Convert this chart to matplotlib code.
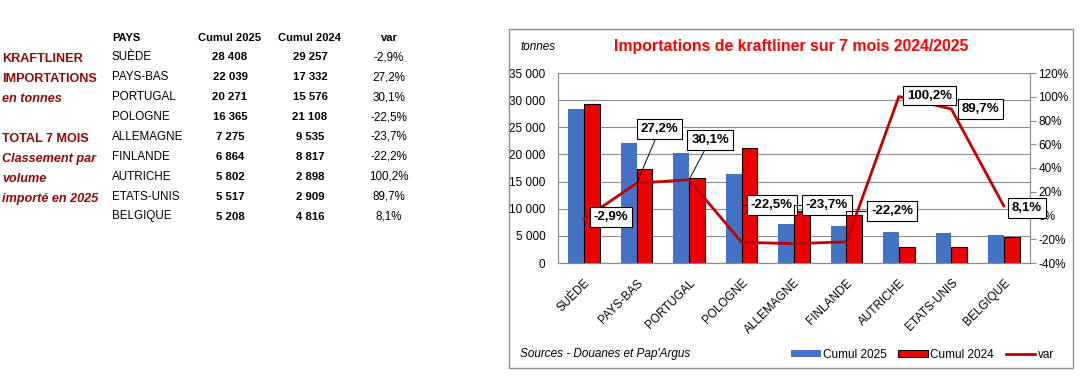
import matplotlib
matplotlib.use("Agg")
import matplotlib.pyplot as plt
from matplotlib.patches import Rectangle, Patch
from matplotlib.lines import Line2D
from matplotlib.ticker import FuncFormatter, MultipleLocator

plt.rcParams['font.family'] = ['Liberation Sans', 'DejaVu Sans']

pays = ["SUÈDE", "PAYS-BAS", "PORTUGAL", "POLOGNE", "ALLEMAGNE",
        "FINLANDE", "AUTRICHE", "ETATS-UNIS", "BELGIQUE"]
cumul_2025 = [28408, 22039, 20271, 16365, 7275, 6864, 5802, 5517, 5208]
cumul_2024 = [29257, 17332, 15576, 21108, 9535, 8817, 2898, 2909, 4816]
var = [-2.9, 27.2, 30.1, -22.5, -23.7, -22.2, 100.2, 89.7, 8.1]

left_labels = ["KRAFTLINER", "IMPORTATIONS", "en tonnes", "TOTAL 7 MOIS",
               "Classement par", "volume", "importé en 2025"]

W, H = 1085, 381
BLUE = "#4472C4"
RED = "#EE0000"
LINE = "#C00000"
MAROON = "#8B0A0A"
GRAY = "#8C8C8C"


def milliers(v):
    return f"{int(v):,}".replace(",", " ")


def pct(v):
    return f"{v:.1f}%".replace(".", ",")


def px(x, y):
    # pixel position -> figure fraction
    return x / W, 1 - y / H


fig = plt.figure(figsize=(W / 100, H / 100), dpi=100)

# ---- left text block ----
lines_y = [59, 79, 99, 139, 159, 179, 199]
for txt, y in zip(left_labels, lines_y):
    italic = txt in ("en tonnes", "Classement par", "volume", "importé en 2025")
    fig.text(*px(2, y), txt, color=MAROON, fontsize=9.1, fontweight="bold",
             style="italic" if italic else "normal", va="center", ha="left")

fig.text(*px(112, 38), "PAYS", fontsize=8, fontweight="bold", va="center")
fig.text(*px(229, 38), "Cumul 2025", fontsize=8, fontweight="bold", va="center", ha="center")
fig.text(*px(309, 38), "Cumul 2024", fontsize=8, fontweight="bold", va="center", ha="center")
fig.text(*px(389, 38), "var", fontsize=8, fontweight="bold", va="center", ha="center")
for i, p in enumerate(pays):
    y = 57.3 + 19.9 * i
    fig.text(*px(112, y), p, fontsize=8.4, va="center")
    fig.text(*px(230, y), milliers(cumul_2025[i]), fontsize=8.2, fontweight="bold",
             va="center", ha="center")
    fig.text(*px(310, y), milliers(cumul_2024[i]), fontsize=8.2, fontweight="bold",
             va="center", ha="center")
    fig.text(*px(389, y), pct(var[i]), fontsize=8.4, va="center", ha="center")

# ---- chart frame ----
fig.patches.append(Rectangle(px(509, 368), (1073 - 509) / W, (368 - 29) / H,
                             transform=fig.transFigure, fill=False,
                             edgecolor=GRAY, lw=1))

ax = fig.add_axes([558 / W, 1 - 263 / H, (1030 - 558) / W, (263 - 73) / H])
ax2 = ax.twinx()

x = list(range(len(pays)))
bw = 0.3
ax.bar([i - bw / 2 for i in x], cumul_2025, width=bw, color=BLUE, zorder=2)
ax.bar([i + bw / 2 for i in x], cumul_2024, width=bw, color=RED,
       edgecolor="black", linewidth=0.8, zorder=2)

ax.set_xlim(-0.5, len(pays) - 0.5)
ax.set_ylim(0, 35000)
ax.yaxis.set_major_locator(MultipleLocator(5000))
ax.yaxis.set_major_formatter(FuncFormatter(lambda v, p: milliers(v)))
ax.grid(axis="y", color=GRAY, lw=0.8)
ax.set_axisbelow(True)
ax.set_xticks(x)
ax.set_xticklabels(pays, rotation=45, ha="right", rotation_mode="anchor", fontsize=8.5)
ax.tick_params(axis="y", length=0, labelsize=8.5, pad=9)
ax.tick_params(axis="x", length=0, pad=10)

ax2.plot(x, var, color=LINE, lw=2, zorder=3)
ax2.set_ylim(-40, 120)
ax2.yaxis.set_major_locator(MultipleLocator(20))
ax2.yaxis.set_major_formatter(FuncFormatter(lambda v, p: f"{v:.0f}%"))
ax2.tick_params(axis="y", length=4, color=GRAY, labelsize=8.5, pad=2)

for a in (ax, ax2):
    a.spines["top"].set_visible(False)
    for s in ("left", "right", "bottom"):
        a.spines[s].set_color(GRAY)
        a.spines[s].set_linewidth(0.8)

# data labels for var
offsets = [(27, 2), (23, 54), (21, 40), (30, 37), (33, 39),
           (46, 31), (31, 1), (29, 0), (23, -2)]
for i, v in enumerate(var):
    dx, dy = offsets[i]
    kw = {}
    if i in (1, 2):
        kw["arrowprops"] = dict(arrowstyle="-", color="black", lw=0.7,
                                shrinkA=0, shrinkB=0)
    elif i in (3, 4, 5):
        kw["arrowprops"] = dict(arrowstyle="-", color="black", lw=0.7,
                                shrinkA=0, shrinkB=0,
                                connectionstyle="angle,angleA=0,angleB=90,rad=0")
    ax2.annotate(pct(v), xy=(i, v), xytext=(dx, dy), textcoords="offset pixels",
                 ha="center", va="center", fontsize=9.5, fontweight="bold",
                 bbox=dict(boxstyle="square,pad=0.3", fc="white", ec="black", lw=0.8),
                 zorder=5, **kw)

# titles and notes
fig.text(*px(791, 47), "Importations de kraftliner sur 7 mois 2024/2025",
         color="#FF0000", fontsize=11.4, fontweight="bold", ha="center", va="center")
fig.text(*px(520, 47), "tonnes", fontsize=8.5, style="italic", va="center")
fig.text(*px(520, 354), "Sources - Douanes et Pap'Argus", fontsize=8.5,
         style="italic", va="center")

handles = [Patch(facecolor=BLUE, edgecolor="none"),
           Patch(facecolor=RED, edgecolor="black", linewidth=0.8),
           Line2D([0], [0], color=LINE, lw=2)]
fig.legend(handles, ["Cumul 2025", "Cumul 2024", "var"], loc="center left",
           bbox_to_anchor=px(791, 355), ncol=3, frameon=False, fontsize=8.5,
           handlelength=2.5, handleheight=0.5, handletextpad=0.2,
           columnspacing=1.0, borderaxespad=0, borderpad=0)

fig.savefig("out.png", dpi=100)
